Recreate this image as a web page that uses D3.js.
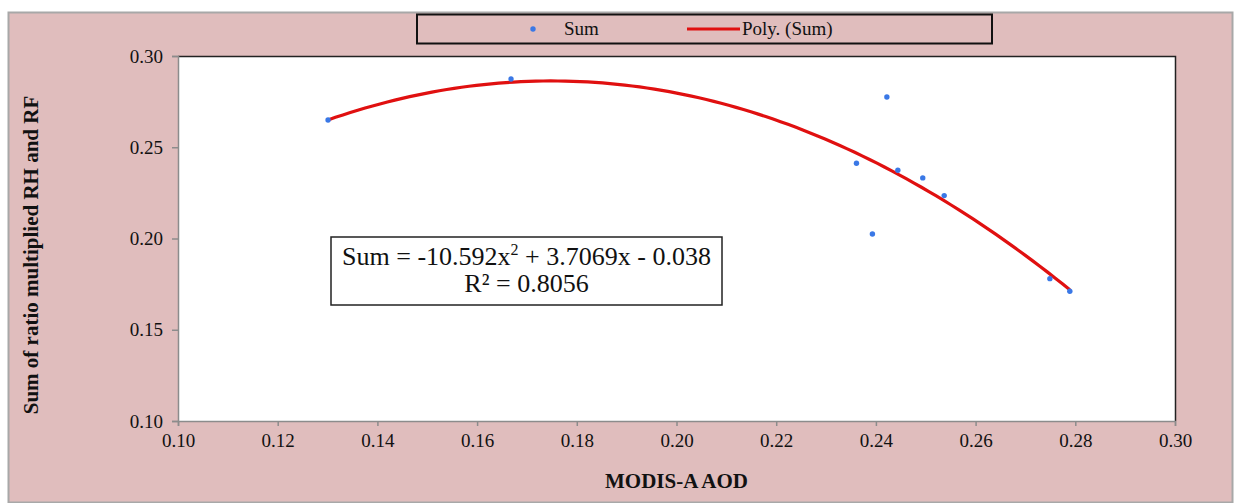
<!DOCTYPE html>
<html>
<head>
<meta charset="utf-8">
<title>Sum vs MODIS-A AOD</title>
<style>
  body { margin: 0; background: #fff; }
  text { font-family: "Liberation Serif", "Times New Roman", serif; }
</style>
</head>
<body>
<svg id="chart" width="1234" height="503"></svg>
<script src="https://cdnjs.cloudflare.com/ajax/libs/d3/7.8.5/d3.min.js"></script>
<script>
// values
var aod = [0.1301, 0.1668, 0.2422, 0.2361, 0.2444, 0.2494, 0.2537, 0.2393, 0.2749, 0.2789];
var sums = [0.2649, 0.2874, 0.2775, 0.2412, 0.2374, 0.2332, 0.2235, 0.2025, 0.1780, 0.1711];
var coef = [-10.592, 3.7069, -0.038];   // a x^2 + b x + c
var xTicks = [0.10, 0.12, 0.14, 0.16, 0.18, 0.20, 0.22, 0.24, 0.26, 0.28, 0.30];
var yTicks = [0.10, 0.15, 0.20, 0.25, 0.30];

var svg = d3.select('#chart');

// outer chart area
svg.append('rect')
  .attr('x', 8.5).attr('y', 12.5).attr('width', 1224).attr('height', 490)
  .style('fill', '#e0bdbd').style('stroke', '#a8a8a8').style('stroke-width', 2);

var pLeft = 178, pRight = 1175, pTop = 56, pBottom = 421;
var x = d3.scaleLinear().domain([0.10, 0.30]).range([pLeft, pRight]);
var y = d3.scaleLinear().domain([0.10, 0.30]).range([pBottom, pTop]);

// plot area
svg.append('rect')
  .attr('x', pLeft).attr('y', pTop).attr('width', pRight - pLeft).attr('height', pBottom - pTop)
  .style('fill', '#fff');
svg.append('path')
  .attr('d', 'M' + pLeft + ',' + (pTop + 0.5) + 'H' + (pRight + 0.5) + 'V' + pBottom)
  .style('fill', 'none').style('stroke', '#222').style('stroke-width', 1.5);

var xAxis = svg.append('g').attr('transform', 'translate(0,' + pBottom + ')')
  .call(d3.axisBottom(x).tickValues(xTicks).tickFormat(d3.format('.2f')).tickSizeOuter(0).tickSize(5).tickPadding(8));
var yAxis = svg.append('g').attr('transform', 'translate(' + pLeft + ',0)')
  .call(d3.axisLeft(y).tickValues(yTicks).tickFormat(d3.format('.2f')).tickSizeOuter(0).tickSize(6).tickPadding(9));
[xAxis, yAxis].forEach(function (g) {
  g.selectAll('path, line').style('stroke', '#8c8c8c').style('stroke-width', 1.5);
  g.selectAll('text').style('font-family', '"Liberation Serif", serif').style('font-size', '19px').style('fill', '#111');
});

// trend line over the data range
var ext = d3.extent(aod);
var curve = d3.range(0, 101).map(function (i) {
  var xv = ext[0] + (ext[1] - ext[0]) * i / 100;
  return [xv, coef[0] * xv * xv + coef[1] * xv + coef[2]];
});
svg.append('path')
  .datum(curve)
  .attr('d', d3.line().x(function (d) { return x(d[0]); }).y(function (d) { return y(d[1]); }))
  .style('fill', 'none').style('stroke', '#e01010').style('stroke-width', 3.2);

// points
svg.selectAll('circle.pt').data(aod).enter().append('circle')
  .attr('class', 'pt')
  .attr('cx', function (d) { return x(d); })
  .attr('cy', function (d, i) { return y(sums[i]); })
  .attr('r', 2.7)
  .style('fill', '#3a78e6');

// legend
svg.append('rect')
  .attr('x', 417).attr('y', 14.5).attr('width', 575).attr('height', 29)
  .style('fill', '#e0bdbd').style('stroke', '#111').style('stroke-width', 2);
svg.append('circle').attr('cx', 533).attr('cy', 29).attr('r', 2.7).style('fill', '#3a78e6');
svg.append('text').attr('x', 564).attr('y', 35).text('Sum').style('font-size', '19px').style('fill', '#111');
svg.append('line').attr('x1', 687).attr('x2', 740).attr('y1', 29).attr('y2', 29)
  .style('stroke', '#e01010').style('stroke-width', 3.2);
svg.append('text').attr('x', 742).attr('y', 35).text('Poly. (Sum)').style('font-size', '19px').style('fill', '#111');

// equation box
svg.append('rect')
  .attr('x', 331).attr('y', 237).attr('width', 391).attr('height', 68)
  .style('fill', '#fff').style('stroke', '#222').style('stroke-width', 1.5);
var eq = svg.append('text').attr('x', 526.5).attr('y', 265).attr('text-anchor', 'middle')
  .style('font-size', '26px').style('fill', '#111');
eq.append('tspan').text('Sum = -10.592x');
eq.append('tspan').text('2').attr('dy', -10).style('font-size', '16px');
eq.append('tspan').text(' + 3.7069x - 0.038').attr('dy', 10);
svg.append('text').attr('x', 526.5).attr('y', 292).attr('text-anchor', 'middle')
  .style('font-size', '26px').style('fill', '#111').text('R² = 0.8056');

// axis titles
svg.append('text').attr('x', (pLeft + pRight) / 2).attr('y', 488).attr('text-anchor', 'middle')
  .style('font-size', '21px').style('font-weight', 'bold').style('fill', '#111').text('MODIS-A AOD');
svg.append('text').attr('transform', 'translate(38,255) rotate(-90)')
  .attr('text-anchor', 'middle')
  .style('font-size', '21px').style('font-weight', 'bold').style('fill', '#111')
  .text('Sum of ratio multiplied RH and RF');
</script>
</body>
</html>
